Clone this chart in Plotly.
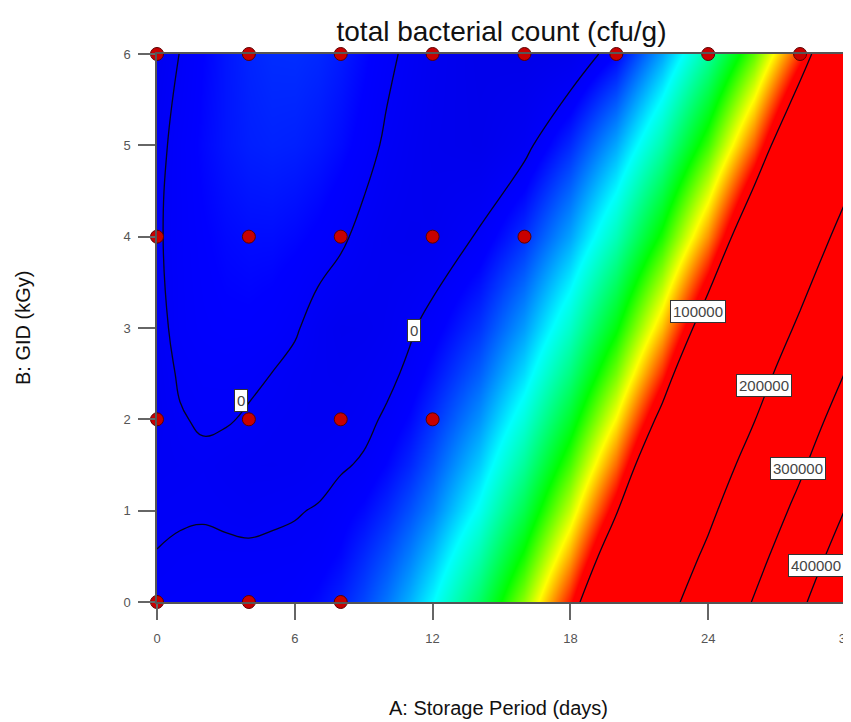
import plotly.graph_objects as go

# ---- data ----
storage_days = [0, 1, 2, 3, 4, 5, 6, 7, 8, 9, 10, 11, 12, 14, 16, 18, 20, 22, 24, 26, 28, 30]
gid_kgy = [0, 0.5, 1, 1.5, 2, 2.5, 3, 4, 5, 6]

count_b0 = [800, 1000, 1100, 1100, 1100, 1200, 1800, 3211, 5375, 8600, 12800, 18000, 24500,
            40500, 62600, 92010, 130100, 177470, 235140, 304120, 385410, 480040]
count_b05 = [100, 450, 600, 600, 600, 650, 700, 1300, 3000, 6000, 9300, 13600, 19000,
             33000, 52600, 79080, 113740, 157290, 210710, 275040, 351280, 440480]
count_b1 = [-525, -354, -257, -554, -900, -511, -197, 200, 1400, 3200, 5900, 9529, 13830,
            25880, 43360, 67290, 98680, 138550, 187900, 247750, 319110, 402980]
count_b15 = [-1300, -1000, -700, -1350, -1700, -1800, -1600, -1050, -400, 400, 2800, 5800, 9995,
             20150, 35340, 56570, 84850, 121210, 166650, 222170, 288810, 367570]
count_b2 = [-1800, -250, 400, 300, -400, -1200, -1700, -1900, -1700, -900, 500, 3000, 6677,
            15100, 28160, 46850, 72190, 105200, 146880, 198240, 260320, 334090]
count_b25 = [-1500, 400, 1000, 1100, 700, -30, -1200, -2000, -2300, -1800, -900, 700, 3813,
             10670, 21750, 38070, 60630, 90450, 128540, 175910, 233580, 302560]
count_b3 = [-1000, 1000, 1800, 2200, 2200, 1700, 500, -1700, -3000, -2800, -2000, -500, 1336,
            6791, 16061, 30161, 50102, 76896, 111556, 155094, 208523, 272854]
count_b4 = [-400, 1100, 2300, 3100, 3500, 3500, 3000, 2100, 700, -1200, -2500, -3000, -2710,
            420, 6557, 16712, 31899, 53130, 81416, 117771, 163206, 218734]
count_b5 = [-1000, 1200, 3000, 4300, 5100, 5400, 5200, 4500, 3300, 1600, -700, -2200, -3500,
            -4500, -1400, 5984, 17065, 33380, 55940, 85760, 123850, 171220]
count_b6 = [-2500, 100, 2500, 4300, 5600, 6300, 6400, 5900, 4700, 3000, 1000, -1000, -3000,
            -5000, -5500, -4000, 2500, 16600, 34610, 58541, 89933, 129799]

count_grid = [count_b0, count_b05, count_b1, count_b15, count_b2,
              count_b25, count_b3, count_b4, count_b5, count_b6]

contour_levels = [0, 100000, 200000, 300000, 400000]

# design points
design_A = [0, 4, 8, 12, 16, 20, 24, 28, 0, 4, 8, 12, 16, 0, 4, 8, 12, 0, 4, 8]
design_B = [6, 6, 6, 6, 6, 6, 6, 6, 4, 4, 4, 4, 4, 2, 2, 2, 2, 0, 0, 0]

# contour labels
label_text = ["0", "0", "100000", "200000", "300000", "400000"]
label_A = [3.66, 11.2, 23.55, 26.43, 27.9, 28.69]
label_B = [2.21, 2.97, 3.18, 2.37, 1.46, 0.40]

x_ticks = [0, 6, 12, 18, 24, 30]
y_ticks = [0, 1, 2, 3, 4, 5, 6]

# ---- colours ----
zmin, zmax = -6000, 100000
def pos(v):
    return (v - zmin) / (zmax - zmin)

colorscale = [
    [0.0, "rgb(0,0,232)"],
    [pos(2500), "rgb(0,0,255)"],
    [pos(24700), "rgb(0,255,255)"],
    [pos(51200), "rgb(0,255,0)"],
    [pos(71700), "rgb(255,255,0)"],
    [pos(93700), "rgb(255,0,0)"],
    [1.0, "rgb(255,0,0)"],
]

FONT = "Liberation Sans, Arial, sans-serif"

# the page body adds a small offset; size the figure to fill the window
W, H = 844, 715

fig = go.Figure()

fig.add_trace(go.Contour(
    x=storage_days, y=gid_kgy, z=count_grid,
    zmin=zmin, zmax=zmax, zauto=False,
    colorscale=colorscale, showscale=False,
    contours=dict(start=contour_levels[0], end=contour_levels[-1],
                  size=contour_levels[1] - contour_levels[0],
                  coloring="heatmap", showlines=True, showlabels=False),
    line=dict(color="rgb(5,5,30)", width=1.3, smoothing=1.2),
    hoverinfo="skip",
))

fig.add_trace(go.Scatter(
    x=design_A, y=design_B, mode="markers",
    marker=dict(symbol="circle", size=13, color="rgb(200,0,0)",
                line=dict(color="rgb(90,0,0)", width=1)),
    cliponaxis=False, hoverinfo="skip", showlegend=False,
))

annotations = []
for t, a, b in zip(label_text, label_A, label_B):
    annotations.append(dict(
        x=a, y=b, xref="x", yref="y", text=t, showarrow=False,
        font=dict(family=FONT, size=15, color="#444"),
        bgcolor="white", bordercolor="#333", borderwidth=1, borderpad=2,
    ))

annotations.append(dict(
    x=-0.1945, y=0.5, xref="paper", yref="paper", text="B: GID (kGy)",
    textangle=-90, showarrow=False, xanchor="center", yanchor="middle",
    font=dict(family=FONT, size=20, color="#111"),
))
annotations.append(dict(
    x=0.495, y=-0.1934, xref="paper", yref="paper", text="A: Storage Period (days)",
    showarrow=False, xanchor="center", yanchor="middle",
    font=dict(family=FONT, size=20, color="#111"),
))

fig.update_layout(
    width=W, height=H,
    margin=dict(l=149, r=6, t=46, b=121, autoexpand=False),
    paper_bgcolor="white", plot_bgcolor="white",
    showlegend=False,
    title=dict(text="total bacterial count (cfu/g)", x=0.5, xref="paper",
               y=1 - 23 / H, yref="container", xanchor="center", yanchor="middle",
               font=dict(family=FONT, size=28, color="#111")),
    xaxis=dict(range=[0, 30], tickvals=x_ticks, ticks="outside", ticklen=16,
               tickcolor="#666", tickwidth=1.5, showgrid=False, zeroline=False,
               showline=True, linecolor="#555", linewidth=1.5, mirror=True,
               ticklabelstandoff=8, automargin=False, ticklabeloverflow="allow",
               tickfont=dict(family=FONT, size=13, color="#555")),
    yaxis=dict(range=[0, 6], tickvals=y_ticks, ticks="outside", ticklen=17,
               tickcolor="#666", tickwidth=1.5, showgrid=False, zeroline=False,
               showline=True, linecolor="#555", linewidth=1.5, mirror=True,
               ticklabelstandoff=5, automargin=False,
               tickfont=dict(family=FONT, size=13, color="#555")),
    annotations=annotations,
)

fig.write_html("out.html")
